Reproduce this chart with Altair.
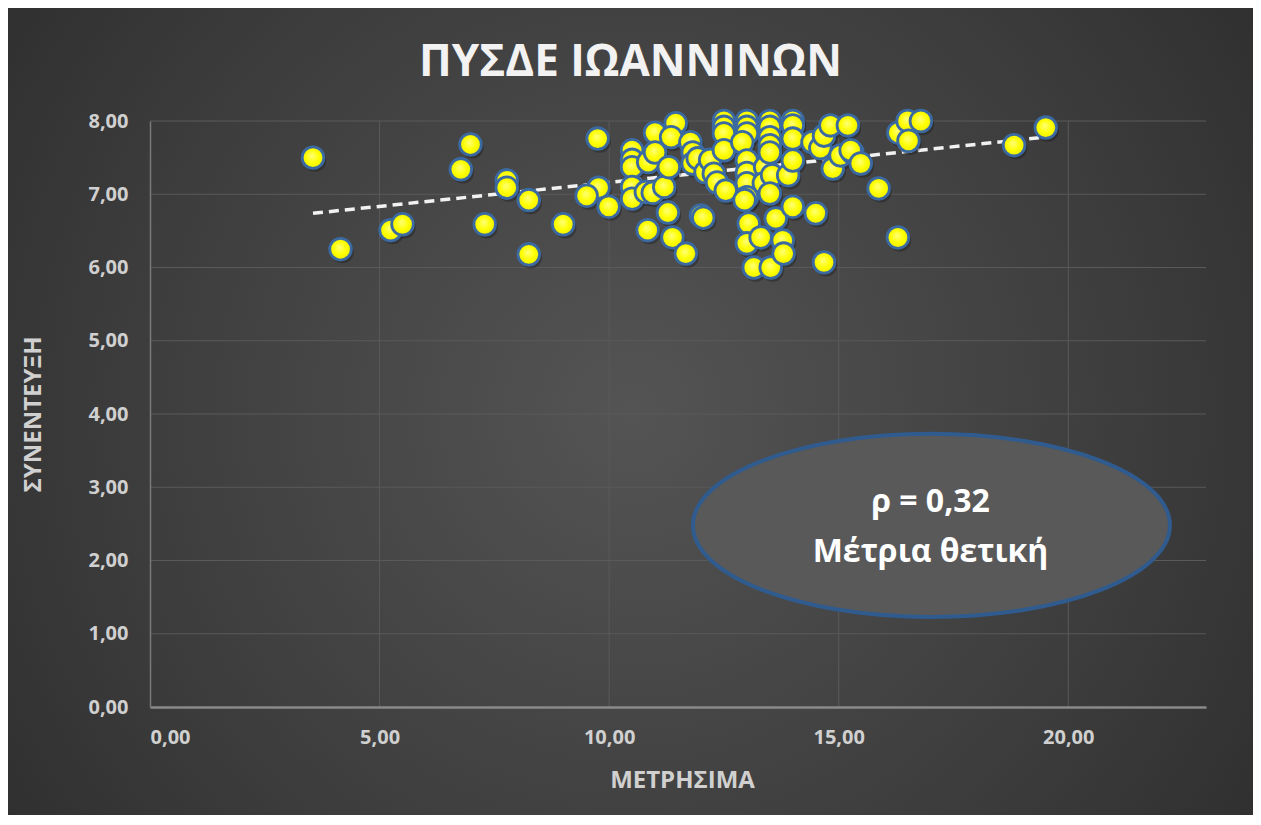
import altair as alt
import pandas as pd

# ---- data ----
metrisima = [
    3.55, 4.15, 5.24, 5.50, 6.77, 6.98, 7.77, 7.77, 7.29, 8.25, 8.25, 9.00, 9.75, 9.77, 9.51, 9.99,
    10.50, 10.50, 10.50, 10.50, 10.50,
    10.85, 10.80, 10.95, 11.00, 11.00, 10.84,
    11.20, 11.30, 11.28, 11.45, 11.35, 11.38, 11.67,
    11.77, 11.82, 11.82, 11.93, 12.00, 12.10,
    12.20, 12.28, 12.35, 12.05,
    12.50, 12.50, 12.50, 12.50, 12.54,
    13.00, 13.00, 13.00, 12.90, 13.00, 13.00, 13.00, 13.00, 12.95, 13.04, 13.00,
    13.30, 13.40, 13.37, 13.15,
    13.50, 13.50, 13.50, 13.50, 13.50, 13.55, 13.50, 13.52, 13.63,
    13.78, 13.80, 13.90, 14.00, 14.00, 14.00, 14.00, 14.00,
    14.43, 14.50, 14.60, 14.68, 14.68, 14.82, 14.87, 15.04, 15.20, 15.30, 15.26, 15.48, 15.87,
    16.29, 16.30, 16.50, 16.52, 16.79, 18.82, 19.51,
]
synenteuxi = [
    7.50, 6.25, 6.51, 6.59, 7.34, 7.68, 7.19, 7.09, 6.59, 6.92, 6.18, 6.59, 7.76, 7.09, 6.98, 6.83,
    7.60, 7.47, 7.37, 7.10, 6.94,
    7.44, 7.03, 7.02, 7.84, 7.57, 6.51,
    7.10, 7.37, 6.75, 7.97, 7.78, 6.41, 6.19,
    7.71, 7.57, 7.42, 7.49, 6.71, 7.30,
    7.47, 7.28, 7.16, 6.68,
    8.00, 7.92, 7.83, 7.60, 7.05,
    8.00, 7.92, 7.83, 7.71, 7.46, 7.29, 7.15, 6.96, 6.92, 6.60, 6.33,
    6.41, 7.37, 7.15, 6.00,
    8.00, 7.92, 7.78, 7.67, 7.57, 7.26, 7.01, 6.00, 6.67,
    6.37, 6.19, 7.26, 8.00, 7.94, 7.76, 7.46, 6.83,
    7.71, 6.74, 7.63, 7.80, 6.07, 7.94, 7.35, 7.53, 7.94, 7.57, 7.60, 7.42, 7.08,
    6.41, 7.84, 8.00, 7.73, 8.00, 7.67, 7.91,
]
trend_x = [3.55, 19.51]
trend_y = [6.74, 7.78]
x_ticks = [0, 5, 10, 15, 20]
y_ticks = [0, 1, 2, 3, 4, 5, 6, 7, 8]
x_domain = [0, 23]
y_domain = [0, 8]
title_text = ["ΠΥΣΔΕ ΙΩΑΝΝΙΝΩΝ"]
x_title = "ΜΕΤΡΗΣΙΜΑ"
y_title = "ΣΥΝΕΝΤΕΥΞΗ"
note_lines = ["ρ = 0,32", "Μέτρια θετική"]
note_x = [17.0, 17.0]
note_y = [2.80, 2.11]
ellipse_x = [17.02]
ellipse_y = [2.48]

# ---- layout ----
W, H = 1056, 586
PAD = {"left": 142, "top": 113, "right": 47, "bottom": 108}
TOTAL_W = PAD["left"] + W + PAD["right"]
FONT = "Open Sans"
GRID = "#5a5a5a"

pts = pd.DataFrame({"x": metrisima, "y": synenteuxi})
trend = pd.DataFrame({"x": trend_x, "y": trend_y})
notes = pd.DataFrame({"x": note_x, "y": note_y, "t": note_lines})
ell = pd.DataFrame({"x": ellipse_x, "y": ellipse_y})
xgrid = pd.DataFrame({"v": x_ticks[1:]})
ygrid = pd.DataFrame({"v": y_ticks[1:]})
ttl = pd.DataFrame({"t": title_text})

comma_fmt = "replace(format(datum.value, '.2f'), '.', ',')"

xs = alt.Scale(domain=x_domain, nice=False, zero=False)
ys = alt.Scale(domain=y_domain, nice=False, zero=False)

bg_grad = alt.RadialGradient(
    gradient="radial",
    stops=[alt.GradientStop(color="#545454", offset=0),
           alt.GradientStop(color="#3c3c3c", offset=0.55),
           alt.GradientStop(color="#262626", offset=1)],
    x1=0.5, y1=0.5, r1=0, x2=0.5, y2=0.5, r2=0.75,
)
background = alt.Chart(alt.Data(values=[{"a": 1}])).mark_rect(fill=bg_grad).encode(
    x=alt.value(-PAD["left"]), x2=alt.value(W + PAD["right"]),
    y=alt.value(-PAD["top"]), y2=alt.value(H + PAD["bottom"]),
)

# chart title drawn as a text mark, centred on the whole chart box
title_layer = alt.Chart(ttl).mark_text(
    font=FONT, fontSize=44, fontWeight="bold", color="#f2f2f2",
    align="center", baseline="alphabetic"
).encode(x=alt.value(TOTAL_W / 2 - PAD["left"]), y=alt.value(-45), text="t:N")

xgrid_layer = alt.Chart(xgrid).mark_rule(color=GRID, strokeWidth=1).encode(
    x=alt.X("v:Q", scale=xs))
ygrid_layer = alt.Chart(ygrid).mark_rule(color=GRID, strokeWidth=1).encode(
    y=alt.Y("v:Q", scale=ys))

axes_layer = alt.Chart(pts).mark_point(opacity=0).encode(
    x=alt.X("x:Q", scale=xs, axis=alt.Axis(
        values=x_ticks, labelExpr=comma_fmt, title=x_title, grid=False, zindex=2,
        domainColor="#8a8a8a", domainWidth=2.5,
        ticks=False, labelPadding=20, titleX=W / 2 + 4, titleY=73, titleBaseline="middle",
        titleAnchor="middle", titleAlign="center")),
    y=alt.Y("y:Q", scale=ys, axis=alt.Axis(
        values=y_ticks, labelExpr=comma_fmt, title=y_title, grid=False, zindex=2,
        domainColor="#7a7a7a", domainWidth=1.5,
        ticks=False, labelPadding=22, titleX=-117, titleY=H / 2, titleAngle=-90,
        titleBaseline="middle", titleAlign="center", titleAnchor="middle")),
)

trend_layer = alt.Chart(trend).mark_line(
    color="#f2f2f2", strokeWidth=3.5, strokeDash=[10, 6]
).encode(x=alt.X("x:Q", scale=xs), y=alt.Y("y:Q", scale=ys))

dot_grad = alt.RadialGradient(
    gradient="radial",
    stops=[alt.GradientStop(color="#ffff7a", offset=0),
           alt.GradientStop(color="#ffff00", offset=0.55),
           alt.GradientStop(color="#e8e800", offset=1)],
    x1=0.45, y1=0.4, r1=0, x2=0.5, y2=0.5, r2=0.55,
)
shadow_layer = alt.Chart(pts).mark_circle(size=500, color="#151515", opacity=0.35).encode(
    x=alt.X("x:Q", scale=xs), y=alt.Y("y:Q", scale=ys),
    xOffset=alt.value(2), yOffset=alt.value(3),
)
points_layer = alt.Chart(pts).mark_circle(
    size=470, fill=dot_grad, stroke="#3b6aa3", strokeWidth=2.8, opacity=1, fillOpacity=1
).encode(x=alt.X("x:Q", scale=xs), y=alt.Y("y:Q", scale=ys))

ell_path = "M -1 0 A 1 0.384 0 1 0 1 0 A 1 0.384 0 1 0 -1 0 Z"
ellipse_layer = alt.Chart(ell).mark_point(
    shape=ell_path, size=477 * 477, fill="#595959", stroke="#2f5b8f",
    strokeWidth=4, opacity=1, fillOpacity=1, filled=True
).encode(x=alt.X("x:Q", scale=xs), y=alt.Y("y:Q", scale=ys))

text_layer = alt.Chart(notes).mark_text(
    font=FONT, fontSize=32, fontWeight="bold", color="#ffffff", align="center",
    baseline="middle"
).encode(x=alt.X("x:Q", scale=xs), y=alt.Y("y:Q", scale=ys), text="t:N")

chart = alt.layer(
    background, title_layer, xgrid_layer, ygrid_layer, axes_layer,
    trend_layer, shadow_layer, points_layer, ellipse_layer, text_layer
).properties(
    width=W, height=H,
    autosize=alt.AutoSizeParams(type="none"),
    padding=PAD,
).configure(background="#262626").configure_view(stroke=None).configure_axis(
    labelFont=FONT, labelFontSize=20, labelFontWeight="bold", labelColor="#d0d0d0",
    titleFont=FONT, titleFontSize=24, titleFontWeight="bold", titleColor="#d0d0d0",
)

chart.save("out.html", embed_options={"renderer": "svg", "actions": False})
